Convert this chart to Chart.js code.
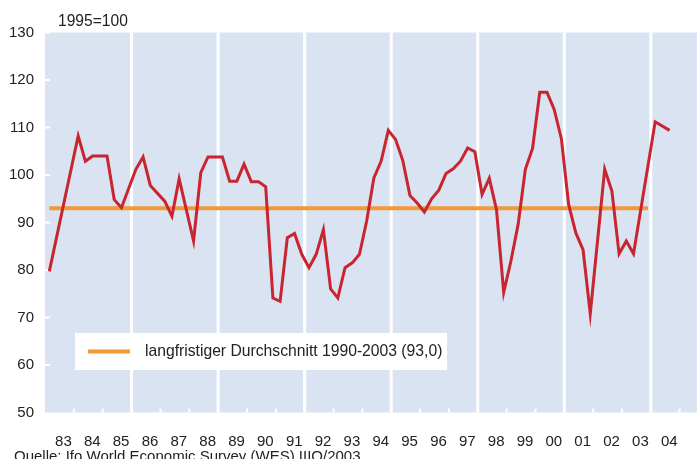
<!DOCTYPE html>
<html>
<head>
<meta charset="utf-8">
<script src="https://cdn.jsdelivr.net/npm/chart.js@4.4.1/dist/chart.umd.min.js"></script>
<style>
html,body{margin:0;padding:0;background:#fff}
#wrap{width:697px;height:459px;position:relative}
</style>
</head>
<body>
<div id="wrap"><canvas id="chart" width="697" height="459"></canvas></div>
<script>
// Data (quarterly, starting 1983)
const firstYear = 1983;
const yearLabels = ["83","84","85","86","87","88","89","90","91","92","93","94","95","96","97","98","99","00","01","02","03","04"];
const climate = [
79.7, null, null, null, 108.2, 102.9, 104.0, null, 104.0, 94.8,
93.1, null, 101.2, 103.8, 97.8, null, 94.5, 91.3, 99.2, null,
86.1, 100.5, 103.8, null, 103.8, 98.7, 98.7, 102.3, 98.6, 98.6,
97.5, 74.1, 73.4, 86.8, 87.7, 83.3, 80.5, 83.3, 88.5, 76.0,
74.1, 80.5, 81.5, 83.3, 90.3, 99.4, 102.9, 109.4, 107.5, 103.1,
95.7, 94.1, 92.2, 95.0, 96.8, 100.3, 101.3, 102.9, 105.7, 104.9,
95.9, 99.3, 92.7, 75.3, 81.9, 89.6, 101.2, 105.6, 117.4, 117.4,
113.8, 107.6, 93.8, 87.8, 84.3, 70.8, null, 101.2, 96.6, 83.4,
86.1, 83.4, null, null, 111.2, null, 109.4
];
const avgValue = 93.0;
const avgFrom = 0;   // quarter index
const avgTo = 83;
const gridYears = [1986,1989,1992,1995,1998,2001,2004];

const quarterX = i => firstYear + 0.15 + i / 4;

const panelColor = "#d9e3f2";
const red = "#c9252f";
const orange = "#f29a36";
const font = "'Liberation Sans', Arial, sans-serif";

const panel = {
  id: "panel",
  beforeDatasetsDraw(chart){
    const {ctx, chartArea: a, scales: {x, y}} = chart;
    ctx.save();
    ctx.fillStyle = panelColor;
    ctx.fillRect(a.left, a.top, a.right - a.left, a.bottom - a.top);
    ctx.fillStyle = "#fff";
    gridYears.forEach(yr => {
      const px = x.getPixelForValue(yr);
      ctx.fillRect(px - 1.5, a.top, 3, a.bottom - a.top);
    });
    for (let yr = firstYear + 1; yr <= firstYear + yearLabels.length; yr++) {
      const px = x.getPixelForValue(yr);
      ctx.fillRect(px - 1, a.bottom - 4, 2, 4);
    }
    for (let v = 60; v <= 130; v += 10) {
      const py = y.getPixelForValue(v);
      ctx.fillRect(a.left, py - 1, 5, 2);
    }
    ctx.restore();
  },
  afterDraw(chart){
    const ctx = chart.ctx;
    ctx.save();
    ctx.fillStyle = "#222";
    ctx.font = "15.6px " + font;
    ctx.textBaseline = "middle";
    ctx.fillText("1995=100", 58, 22);
    ctx.font = "15px " + font;
    ctx.textBaseline = "alphabetic";
    ctx.fillText("Quelle: Ifo World Economic Survey (WES) IIIQ/2003", 14, 461);
    // legend
    ctx.fillStyle = "#fff";
    ctx.fillRect(75, 333, 372, 37);
    ctx.strokeStyle = orange;
    ctx.lineWidth = 4;
    ctx.beginPath();
    ctx.moveTo(88, 351.5);
    ctx.lineTo(130, 351.5);
    ctx.stroke();
    ctx.fillStyle = "#222";
    ctx.font = "15.7px " + font;
    ctx.textBaseline = "middle";
    ctx.fillText("langfristiger Durchschnitt 1990-2003 (93,0)", 145, 352);
    ctx.restore();
  }
};

new Chart(document.getElementById("chart"), {
  type: "line",
  data: {
    datasets: [
      {
        label: "Weltwirtschaftsklima",
        data: climate.map((v, i) => ({x: quarterX(i), y: v})),
        borderColor: red,
        borderWidth: 3,
        pointRadius: 0,
        tension: 0,
        spanGaps: true
      },
      {
        label: "langfristiger Durchschnitt 1990-2003 (93,0)",
        data: [{x: quarterX(avgFrom), y: avgValue}, {x: quarterX(avgTo), y: avgValue}],
        borderColor: orange,
        borderWidth: 4,
        pointRadius: 0,
        tension: 0
      }
    ]
  },
  options: {
    responsive: false,
    animation: false,
    layout: {padding: {top: 32.5, left: 0, right: 0, bottom: 0}},
    plugins: {legend: {display: false}, tooltip: {enabled: false}},
    scales: {
      x: {
        type: "linear",
        min: firstYear,
        max: 2005.6,
        grid: {display: false},
        border: {display: false},
        afterBuildTicks: s => { s.ticks = yearLabels.map((l, k) => ({value: firstYear + 0.5 + k})); },
        afterFit: s => { s.height = 46.5; },
        ticks: {
          autoSkip: false,
          maxRotation: 0,
          padding: 12,
          labelOffset: 4,
          color: "#222",
          font: {family: font, size: 15},
          callback: (v, idx) => yearLabels[idx]
        }
      },
      y: {
        min: 50,
        max: 130,
        grid: {display: false},
        border: {display: false},
        afterFit: s => { s.width = 45; },
        ticks: {
          stepSize: 10,
          padding: 3,
          color: "#222",
          font: {family: font, size: 15}
        }
      }
    }
  },
  plugins: [panel]
});
</script>
</body>
</html>
